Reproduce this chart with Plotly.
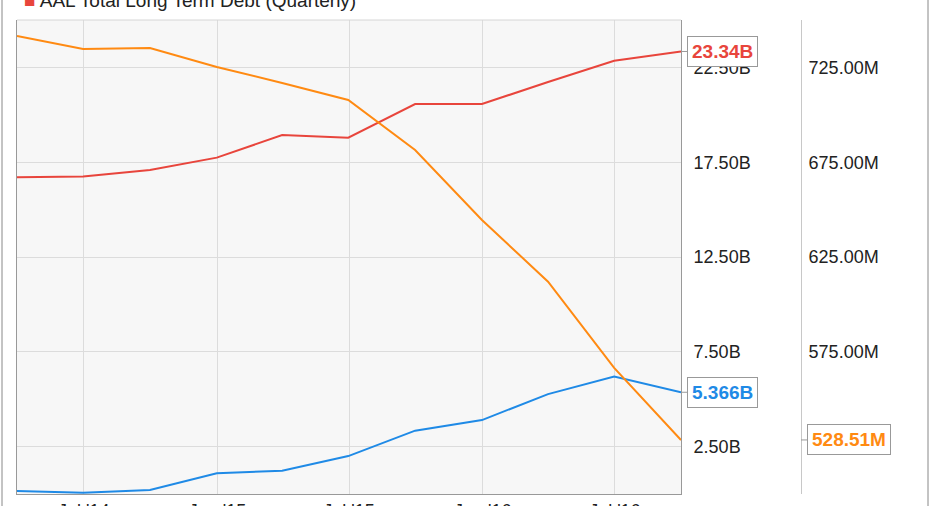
import plotly.graph_objects as go

# quarter-end dates
dates = ["2014-03-31", "2014-06-30", "2014-09-30", "2014-12-31", "2015-03-31", "2015-06-30",
         "2015-09-30", "2015-12-31", "2016-03-31", "2016-06-30", "2016-09-30"]

# values in billions (left axis)
long_term_debt = [16.70, 16.74, 17.09, 17.74, 18.93, 18.79, 20.57, 20.57, 21.73, 22.85, 23.34]
blue_series = [0.16, 0.07, 0.21, 1.09, 1.23, 2.00, 3.34, 3.90, 5.27, 6.19, 5.366]
# values in millions (right axis)
orange_series = [741.6, 734.7, 735.2, 725.2, 716.8, 707.8, 681.4, 644.5, 612.0, 566.5, 528.51]

x_tickvals = ["2014-07-01", "2015-01-01", "2015-07-01", "2016-01-01", "2016-07-01"]
x_ticktext = ["Jul '14", "Jan '15", "Jul '15", "Jan '16", "Jul '16"]
y_tickvals = [2.5, 7.5, 12.5, 17.5, 22.5]
y_ticktext = ["2.50B", "7.50B", "12.50B", "17.50B", "22.50B"]
y2_tickvals = [575, 625, 675, 725]
y2_ticktext = ["575.00M", "625.00M", "675.00M", "725.00M"]

RED = "#e8453c"
BLUE = "#1f8ae6"
ORANGE = "#ff8a12"
FONT = "Liberation Sans"

W, H = 931, 506
ML, MR, MT, MB = 17, 130, 20, 12
plot_right = 681
dom_end = (plot_right - ML) / (W - ML - MR)

fig = go.Figure()
fig.add_trace(go.Scatter(x=dates, y=long_term_debt, mode="lines",
                         line=dict(color=RED, width=2), yaxis="y"))
fig.add_trace(go.Scatter(x=dates, y=blue_series, mode="lines",
                         line=dict(color=BLUE, width=2), yaxis="y"))
fig.add_trace(go.Scatter(x=dates, y=orange_series, mode="lines",
                         line=dict(color=ORANGE, width=2), yaxis="y2"))

# value tags at the last point
def tag(x, y, text, color, xref="x", yref="y"):
    fig.add_annotation(x=x, y=y, xref=xref, yref=yref, text="<b>%s</b>" % text,
                       showarrow=True, arrowhead=0, arrowwidth=1, arrowcolor="#999",
                       ax=6, ay=0, axref="pixel", ayref="pixel", xanchor="left",
                       font=dict(family=FONT, size=19, color=color),
                       bgcolor="white", bordercolor="#999", borderwidth=1, borderpad=4)

tag(dates[-1], long_term_debt[-1], "23.34B", RED)
tag(dates[-1], blue_series[-1], "5.366B", BLUE)
tag(1, orange_series[-1], "528.51M", ORANGE, xref="paper", yref="y2")

# title, mostly cut off at the top of the picture
fig.add_annotation(x=0, y=1, xref="paper", yref="paper", xanchor="left", yanchor="bottom",
                   xshift=5, yshift=7, showarrow=False,
                   text='<span style="color:%s">■</span> AAL Total Long Term Debt (Quarterly)' % RED,
                   font=dict(family=FONT, size=19, color="#222"))

# outer frame and top border of the plot area
pw = W - ML - MR
frame = [
    dict(type="line", xref="paper", yref="paper", x0=(2 - ML) / pw, x1=(2 - ML) / pw,
         y0=-0.1, y1=1.2, line=dict(color="#888", width=1)),
    dict(type="line", xref="paper", yref="paper", x0=(928 - ML) / pw, x1=(928 - ML) / pw,
         y0=-0.1, y1=1.2, line=dict(color="#888", width=1)),
    dict(type="line", xref="paper", yref="paper", x0=0, x1=dom_end, y0=1, y1=1,
         line=dict(color="#d6d6d6", width=1)),
]

fig.update_layout(
    width=W, height=H,
    margin=dict(l=ML, r=MR, t=MT, b=MB, autoexpand=False),
    paper_bgcolor="white",
    plot_bgcolor="#f7f7f7",
    showlegend=False,
    font=dict(family=FONT, size=18, color="#222"),
    shapes=frame,
    xaxis=dict(
        domain=[0, dom_end], automargin=False,
        type="date",
        range=[dates[0], dates[-1]],
        tickmode="array", tickvals=x_tickvals, ticktext=x_ticktext,
        ticks="", showgrid=True, gridcolor="#dcdcdc", gridwidth=1,
        showline=True, linecolor="#999", zeroline=False,
        tickfont=dict(size=18, color="#222"),
    ),
    yaxis=dict(
        side="right", range=[0, 25], automargin=False,
        tickmode="array", tickvals=y_tickvals, ticktext=y_ticktext,
        ticks="", showgrid=True, gridcolor="#dcdcdc", gridwidth=1,
        showline=True, linecolor="#999", mirror=True, zeroline=False,
        ticklabelstandoff=8,
        tickfont=dict(size=18, color="#222"),
    ),
    yaxis2=dict(
        overlaying="y", side="right", anchor="free", position=1, automargin=False,
        range=[500, 750],
        tickmode="array", tickvals=y2_tickvals, ticktext=y2_ticktext,
        ticks="", showgrid=False, showline=True, linecolor="#c8c8c8",
        zeroline=False, ticklabelstandoff=3,
        tickfont=dict(size=18, color="#222"),
    ),
)

# drop the page's default body margin so the figure sits at the window's corner
fig.write_html("out.html", config={"displayModeBar": False},
               post_script="document.body.style.margin='0';")
